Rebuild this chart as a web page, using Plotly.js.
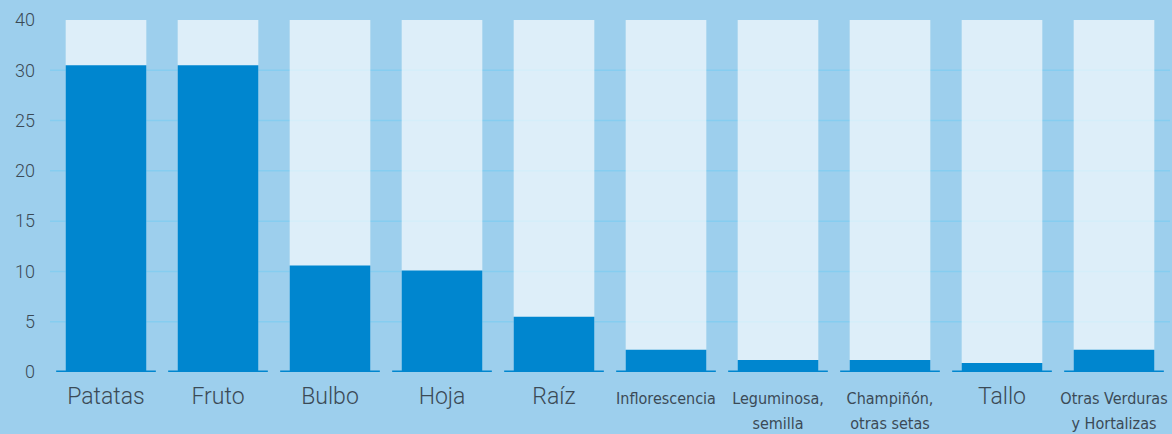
<!DOCTYPE html>
<html>
<head>
<meta charset="utf-8">
<script src="https://cdn.plot.ly/plotly-3.0.1.min.js"></script>
<style>
  html, body { margin: 0; padding: 0; background: #9dcfed; }
  #plotContainer { width: 1172px; height: 434px; }
</style>
</head>
<body>
<div id="plotContainer"></div>
<script>
var categories = [
  "Patatas", "Fruto", "Bulbo", "Hoja", "Raíz", "Inflorescencia",
  "Leguminosa, semilla", "Champiñón, otras setas", "Tallo", "Otras Verduras y Hortalizas"
];
var big = "<span style='font-size:23px'>";
var cond = "<span style='font-family:DejaVu Sans Condensed, DejaVu Sans;font-stretch:condensed;font-size:16px'>";
var tickLabels = [
  big + "Patatas</span>", big + "Fruto</span>", big + "Bulbo</span>",
  big + "Hoja</span>", big + "Raíz</span>",
  cond + "Inflorescencia</span>",
  cond + "Leguminosa,</span><br>" + cond + "semilla</span>",
  cond + "Champiñón,</span><br>" + cond + "otras setas</span>",
  big + "Tallo</span>",
  cond + "Otras Verduras</span><br>" + cond + "y Hortalizas</span>"
];
var values = [30.5, 30.5, 10.6, 10.1, 5.5, 2.2, 1.2, 1.2, 0.9, 2.2];

// the scale tops out at 35 but the top tick is labelled 40 in the original
var scaleMax = 35;
var yTickVals = [0, 5, 10, 15, 20, 25, 30, 35];
var yTickText = ["0", "5", "10", "15", "20", "25", "30", "40"];
var gridVals = [5, 10, 15, 20, 25, 30];

var idx = categories.map((c, i) => i);

var backTrace = {
  type: "bar",
  x: idx,
  y: categories.map(() => scaleMax),
  width: 0.72,
  marker: { color: "rgba(255,255,255,0.65)" },
  textposition: "none",
  hoverinfo: "skip",
};

var valueTrace = {
  type: "bar",
  x: idx,
  y: values,
  width: 0.72,
  marker: { color: "#0086cf" },
  customdata: categories,
  textposition: "none",
  hovertemplate: "%{customdata}: %{y}<extra></extra>",
};

var shapes = [];
gridVals.forEach((v) => {
  shapes.push({
    type: "line", xref: "paper", yref: "y", x0: 0, x1: 1, y0: v, y1: v,
    line: { color: "#86cdf0", width: 1.5 }, layer: "below",
  });
});
idx.forEach((i) => {
  shapes.push({
    type: "line", xref: "x", yref: "y", x0: i - 0.445, x1: i + 0.445, y0: 0, y1: 0,
    line: { color: "#0086cf", width: 3 }, layer: "above",
  });
});

var layout = {
  width: 1172,
  height: 434,
  margin: { l: 50, r: 2, t: 20, b: 62 },
  paper_bgcolor: "#9dcfed",
  plot_bgcolor: "#9dcfed",
  barmode: "overlay",
  showlegend: false,
  font: { family: "Roboto, sans-serif", size: 18, color: "#3b4a56", weight: 300 },
  xaxis: {
    range: [-0.5, 9.5],
    tickvals: idx,
    ticktext: tickLabels,
    tickfont: { size: 19, color: "#3b4a56", weight: 300 },
    showgrid: false,
    zeroline: false,
    showline: false,
    ticks: "",
    tickangle: 0,
    ticklabelstandoff: 12,
  },
  yaxis: {
    range: [0, scaleMax],
    tickvals: yTickVals,
    ticktext: yTickText,
    tickfont: { size: 18, color: "#3b4a56", weight: 300 },
    showgrid: false,
    zeroline: false,
    showline: false,
    ticks: "",
    ticklabelstandoff: 14,
  },
  shapes: shapes,
};

var config = { responsive: false, displayModeBar: false };

Plotly.newPlot("plotContainer", [backTrace, valueTrace], layout, config);
</script>
</body>
</html>
